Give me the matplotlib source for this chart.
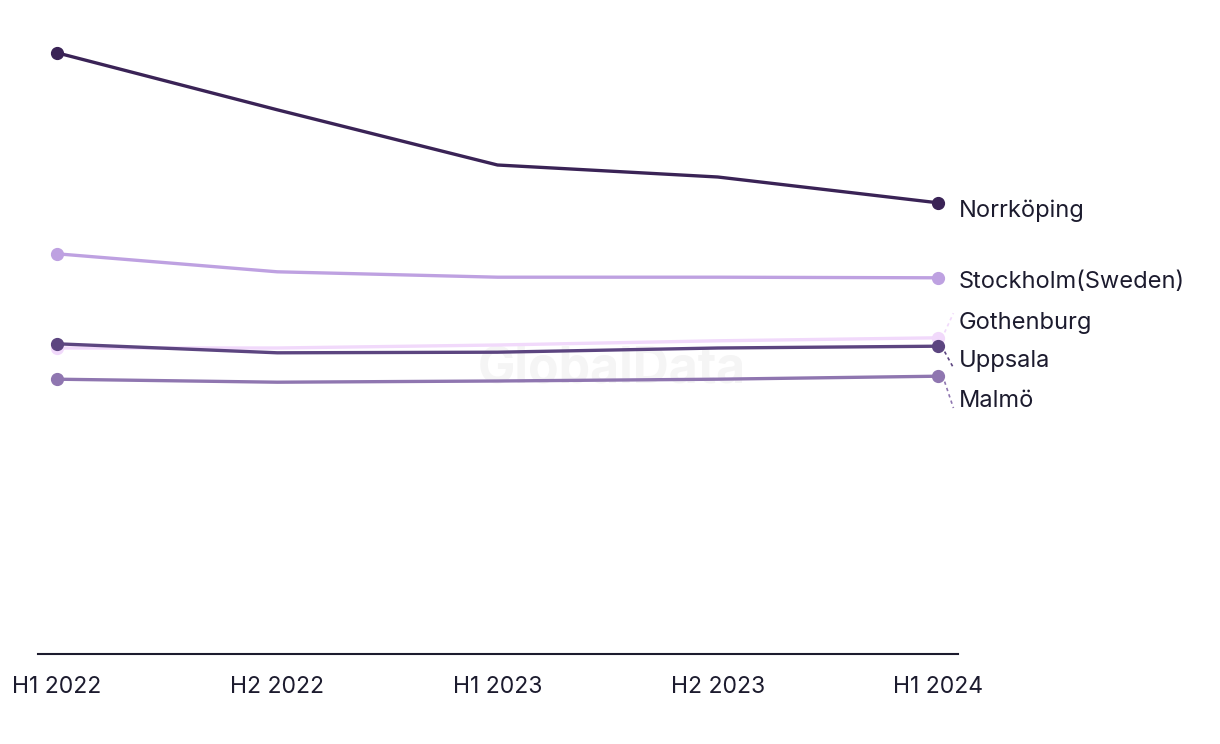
import matplotlib
matplotlib.use('Agg')
from matplotlib import pyplot as plt


####################################################################################################
#                                             Setting                                              #
####################################################################################################
plt.rcParams['font.family'] = ['Inter', 'DejaVu Sans']
TEXT_COLOR = '#1c1b2e'


####################################################################################################
#                                             Variable                                             #
####################################################################################################
periods = ['H1 2022', 'H2 2022', 'H1 2023', 'H2 2023', 'H1 2024']

norrkoping = [100.2, 90.7, 81.5, 79.5, 75.2]
stockholm = [66.7, 63.7, 62.8, 62.8, 62.7]
gothenburg = [51.0, 51.0, 51.5, 52.2, 52.7]
uppsala = [51.7, 50.2, 50.3, 51.0, 51.3]
malmo = [45.8, 45.3, 45.5, 45.8, 46.3]

series = [
    ('Gothenburg', gothenburg, '#f1d9fb'),
    ('Malmö', malmo, '#8f76b0'),
    ('Uppsala', uppsala, '#5c4580'),
    ('Stockholm(Sweden)', stockholm, '#bea1e1'),
    ('Norrköping', norrkoping, '#3a2356'),
]

# label y positions (layout only)
label_y = {
    'Norrköping': 73.8,
    'Stockholm(Sweden)': 62.0,
    'Gothenburg': 55.2,
    'Uppsala': 48.9,
    'Malmö': 42.2,
}


####################################################################################################
#                                             Plot                                                 #
####################################################################################################
fig = plt.figure(figsize=(12.2, 7.44), dpi=100)
ax = fig.add_axes([38 / 1220, 90 / 744, 920 / 1220, 654 / 744])

x = list(range(len(periods)))
for name, vals, color in series:
    ax.plot(x, vals, color=color, lw=2.4, marker='o', ms=8.5, markevery=[0, len(x) - 1],
            solid_capstyle='round', zorder=3)
    ly = label_y[name]
    last = vals[-1]
    if abs(ly - last) > 1.5:
        # small dashed leader from point to label
        y0 = last + (0.9 if ly > last else -0.9)
        y1 = ly + (-1.2 if ly < last else 1.6)
        ax.plot([x[-1] + 0.03, x[-1] + 0.07], [y0, y1], color=color, lw=1.2,
                ls=(0, (2, 2)), zorder=2, clip_on=False)
    ax.text(x[-1] + 0.095, ly, name, fontsize=17, color=TEXT_COLOR, va='center', ha='left')

ax.text(0.624, 0.435, 'GlobalData', transform=ax.transAxes, fontsize=36, fontweight='bold',
        color='#f5f5f5', ha='center', va='center', zorder=1)

ax.set_xlim(-19 / 220.25, 4 + 20 / 220.25)
ax.set_ylim(0, 109)
ax.set_xticks(x)
ax.set_xticklabels(periods, fontsize=16.5, color=TEXT_COLOR)
ax.tick_params(axis='x', length=0, pad=16)
ax.set_yticks([])
for side in ['top', 'right', 'left']:
    ax.spines[side].set_visible(False)
ax.spines['bottom'].set_color(TEXT_COLOR)
ax.spines['bottom'].set_linewidth(1.5)

plt.savefig('out.png', dpi=100)
plt.close()
